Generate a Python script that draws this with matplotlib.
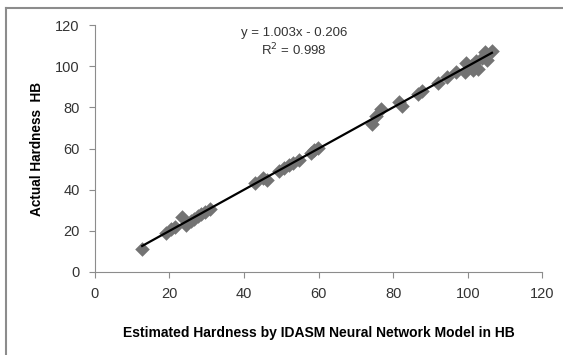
import matplotlib
matplotlib.use("Agg")
import matplotlib.pyplot as plt
from matplotlib.lines import Line2D

# estimated hardness (x) and actual hardness (y)
estimated = [12.7, 19.2, 20.4, 21.4, 23.3, 24.5, 25.7, 26.7, 27.6, 28.6, 29.5, 31.0,
             43.0, 45.0, 46.1, 49.3, 50.7, 52.2, 53.1, 54.8, 57.9, 58.9, 59.9,
             74.3, 75.3, 76.7, 81.5, 82.5, 86.8, 87.8, 92.1, 94.5, 96.9, 99.3,
             99.6, 100.8, 101.3, 102.2, 102.7, 103.7, 105.1, 104.6, 106.5]
actual = [11.2, 19.0, 20.6, 21.7, 26.8, 22.9, 24.6, 25.8, 27.1, 28.2, 29.3, 30.6,
          43.3, 45.7, 44.8, 49.0, 50.6, 51.9, 53.0, 54.6, 57.9, 59.2, 60.3,
          72.0, 75.7, 79.0, 82.5, 80.9, 86.6, 87.9, 91.9, 94.9, 97.1, 97.1,
          101.7, 100.0, 98.1, 102.5, 98.7, 104.1, 103.3, 106.9, 107.7]
slope, intercept = 1.003, -0.206
x_ticks = [0, 20, 40, 60, 80, 100, 120]
y_ticks = [0, 20, 40, 60, 80, 100, 120]

W, H = 563, 355
fig = plt.figure(figsize=(W / 100, H / 100), dpi=100)
plt.rcParams["font.family"] = ["Liberation Sans", "DejaVu Sans"]

ax = fig.add_axes([94.8 / W, 1 - 271.7 / H, (542.3 - 94.8) / W, (271.7 - 25.3) / H])
ax.scatter(estimated, actual, marker="D", s=55, color="#737373", linewidths=0, zorder=2)

xfit = [min(estimated), max(estimated)]
ax.plot(xfit, [slope * v + intercept for v in xfit], color="black", lw=1.6, zorder=3)

ax.set_xlim(0, 120)
ax.set_ylim(0, 120)
ax.set_xticks(x_ticks)
ax.set_yticks(y_ticks)
for side in ("top", "right"):
    ax.spines[side].set_visible(False)
for side in ("left", "bottom"):
    ax.spines[side].set_color("#8c8c8c")
ax.tick_params(direction="out", length=4, color="#8c8c8c", labelsize=10.5,
               labelcolor="#333333", pad=7)

ax.set_xlabel("Estimated Hardness by IDASM Neural Network Model in HB",
              fontsize=10, fontweight="bold", labelpad=18)
ax.set_ylabel("Actual Hardness  HB", fontsize=9.8, fontweight="bold", labelpad=8)

ax.text(0.445, 0.93, "y = 1.003x - 0.206\nR$^2$ = 0.998", transform=ax.transAxes,
        ha="center", va="center", fontsize=9.5, color="#333333", linespacing=1.2)

# chart area border
fig.add_artist(Line2D([5.5 / W, 5.5 / W], [0, 1 - 8 / H], color="#8c8c8c", lw=1.5))
fig.add_artist(Line2D([5.5 / W, 1], [1 - 8 / H, 1 - 8 / H], color="#8c8c8c", lw=1.5))

fig.savefig("out.png", dpi=100)
